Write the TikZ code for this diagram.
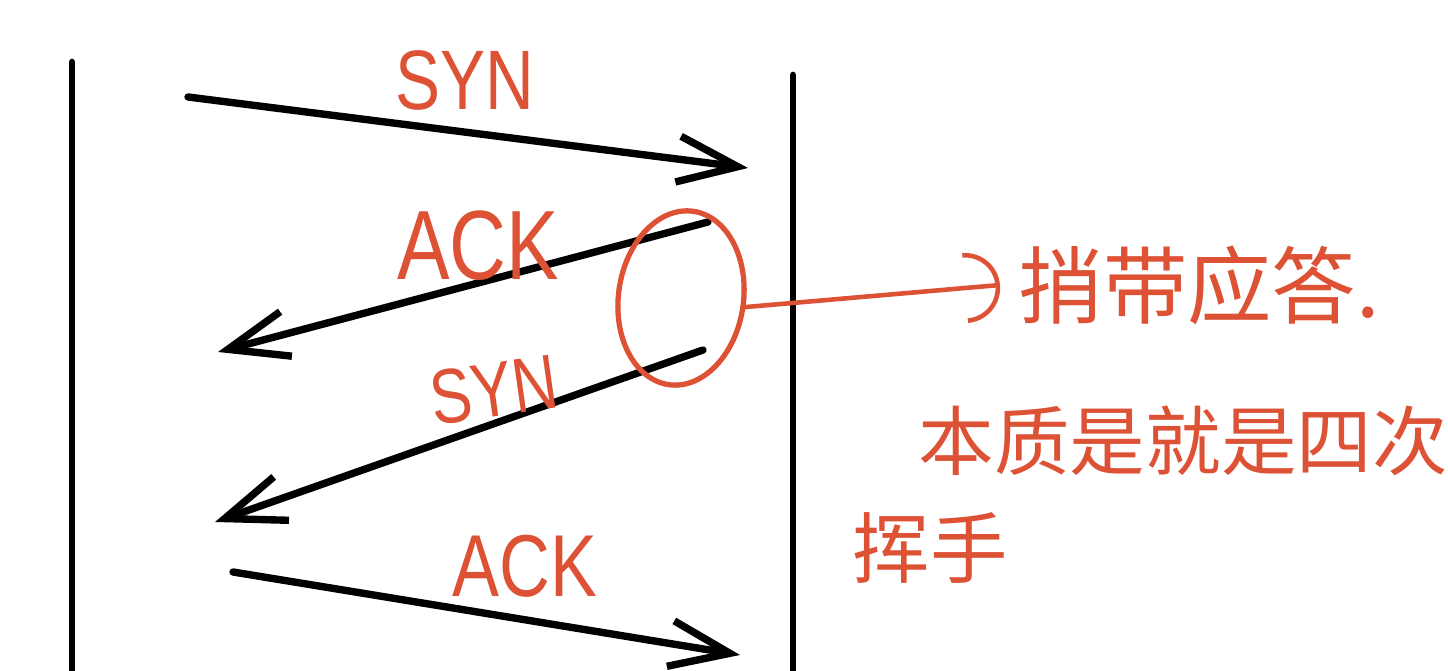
\documentclass[tikz,border=0pt]{standalone}
\usepackage{fontspec}
\newfontfamily\cjkfont{Noto Sans CJK SC}
\newfontfamily\handfont[FakeStretch=0.8]{Liberation Sans}
\definecolor{penred}{RGB}{221, 81, 53}
\usetikzlibrary{
    arrows.meta,
    shapes.geometric
}

\begin{document}
\begin{tikzpicture}[x=0.01cm, y=-0.01cm,
    timeline/.style={line width=1.9pt, line cap=round},
    msg/.style={-{Straight Barb[length=6mm, width=4.6mm]}, line width=2.1pt, line cap=round},
    msglabel/.style={font=\handfont, text=penred, inner sep=0pt},
    note/.style={font=\cjkfont, text=penred, inner sep=0pt, anchor=west}]
    \useasboundingbox (0,0) rectangle (1448,671);

    % Two timelines
    \coordinate (lt) at (72,62);
    \coordinate (lb) at (72,680);
    \coordinate (rt) at (793,75);
    \coordinate (rb) at (793,680);
    \draw[timeline] (lt) -- (lb);
    \draw[timeline] (rt) -- (rb);

    % Step 1: SYN
    \coordinate (s1a) at (188,97);
    \coordinate (s1b) at (748,168);
    \draw[msg] (s1a) -- (s1b);
    \node[msglabel, font=\handfont\fontsize{24pt}{24pt}\selectfont] (syn1) at (465,80) {SYN};

    % Step 2: ACK
    \coordinate (a1a) at (708,222);
    \coordinate (a1b) at (218,352);
    \draw[msg] (a1a) -- (a1b);
    \node[msglabel, font=\handfont\fontsize{28pt}{28pt}\selectfont] (ack1) at (478,246) {ACK};

    % Step 3: SYN
    \coordinate (s2a) at (703,350);
    \coordinate (s2b) at (215,522);
    \draw[msg] (s2a) -- (s2b);
    \node[msglabel, font=\handfont\fontsize{22pt}{22pt}\selectfont, rotate=8] (syn2) at (494,390) {SYN};

    % Step 4: ACK
    \coordinate (a2a) at (233,572);
    \coordinate (a2b) at (740,655);
    \draw[msg] (a2a) -- (a2b);
    \node[msglabel, font=\handfont\fontsize{25pt}{25pt}\selectfont] (ack2) at (525,566) {ACK};

    % Piggybacked reply
    \node[draw=penred, line width=1.5pt, ellipse, minimum width=1.25cm, minimum height=1.75cm,
        rotate=-8] (circ) at (681,298) {};
    \coordinate (tip) at (1000,285);
    \draw[penred, line width=1.3pt, line cap=round, -{Arc Barb[length=3.5mm, width=7mm]}] (circ.east) -- (tip);
    \node[note, font=\cjkfont\fontsize{24pt}{24pt}\selectfont] (note1) at (1018,285) {捎带应答.};
    \node[note, font=\cjkfont\fontsize{21.5pt}{21.5pt}\selectfont] (note2) at (918,441) {本质是就是四次};
    \node[note, font=\cjkfont\fontsize{22pt}{22pt}\selectfont] (note3) at (852,548) {挥手};
\end{tikzpicture}
\end{document}
